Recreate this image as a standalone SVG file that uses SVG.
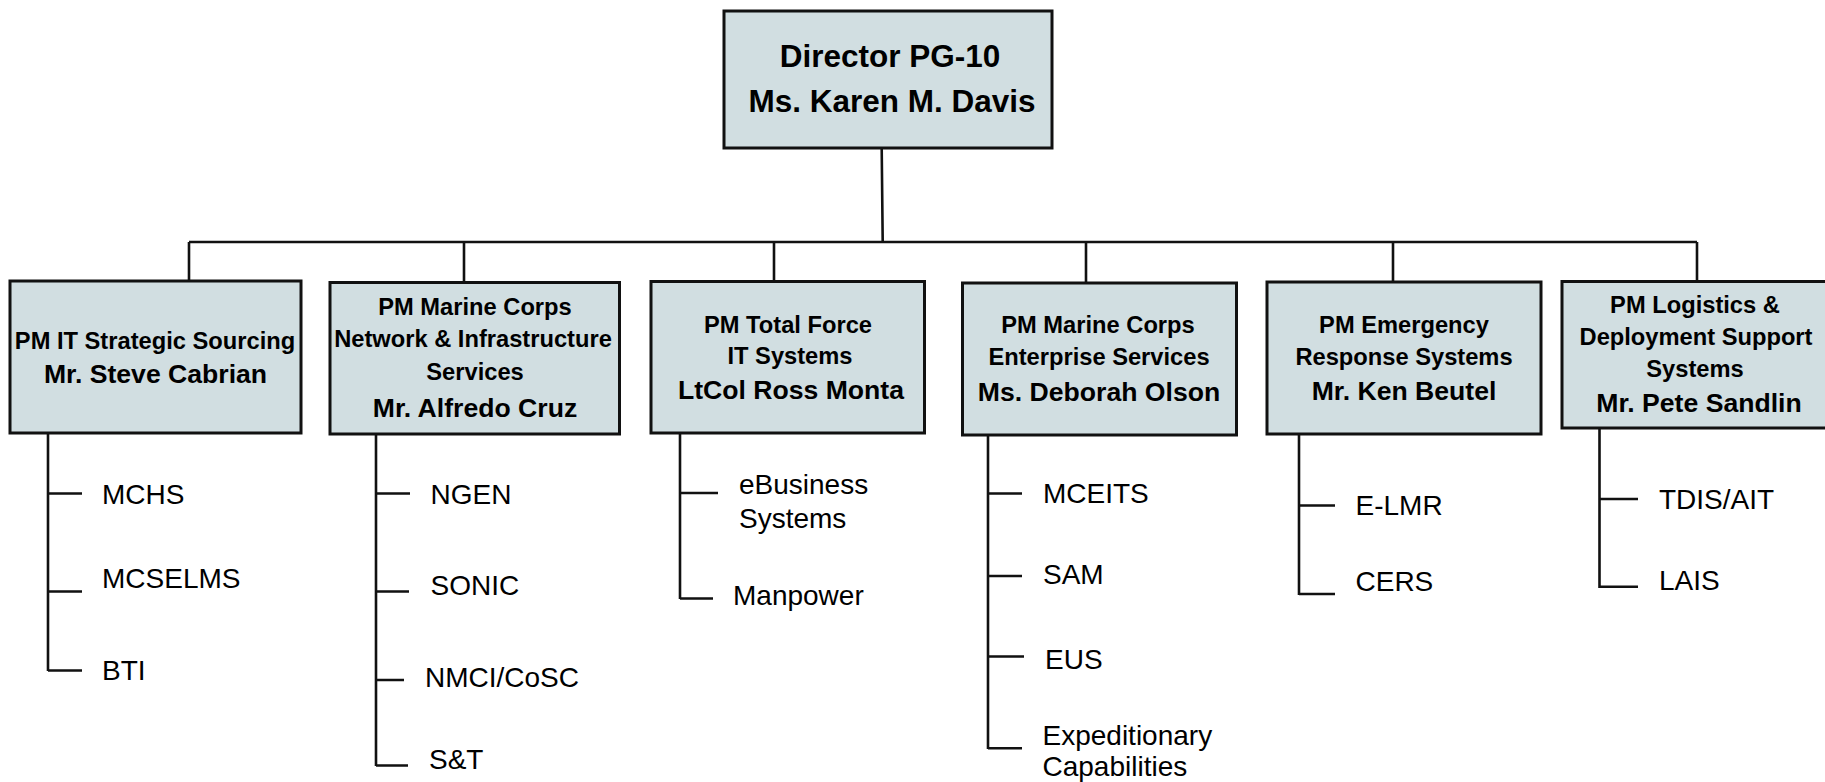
<svg xmlns="http://www.w3.org/2000/svg" width="1825" height="782" viewBox="0 0 1825 782">
<style>
.box{fill:#D1DEE1;stroke:#111;stroke-width:3}
.ln{stroke:#111;stroke-width:2.6;fill:none;stroke-linecap:butt}
text{font-family:"Liberation Sans",Arial,sans-serif;fill:#000}
.dir{font-size:31.5px;font-weight:bold;text-anchor:middle}
.t{font-size:23.7px;font-weight:bold;text-anchor:middle}
.n{font-size:26.6px;font-weight:bold;text-anchor:middle}
.leaf{font-size:28px}
</style>
<rect width="1825" height="782" fill="#fff"/>
<g id="connectors">
<path class="ln" d="M881.7 148 L882.7 242 M189 242 H1697 M189 242 V281 M464 242 V282 M774 242 V281 M1086 242 V283 M1393 242 V282 M1697 242 V281"/>
<path class="ln" d="M48 433 V671 M48 493.5 H82 M48 591.5 H82 M48 670.5 H82"/>
<path class="ln" d="M376 434 V766 M376 493.5 H410 M376 591.5 H409 M376 680 H404 M376 765.5 H408"/>
<path class="ln" d="M680 433 V599 M680 493 H718 M680 598.5 H713"/>
<path class="ln" d="M988 435 V749 M988 493.5 H1022 M988 576 H1022 M988 656.5 H1024 M988 748.3 H1022"/>
<path class="ln" d="M1299 434 V595 M1299 505.5 H1335 M1299 594 H1335"/>
<path class="ln" d="M1599.5 428 V588 M1599.5 499 H1638 M1599.5 586.7 H1638"/>
</g>
<g id="director">
<rect class="box" x="724" y="11" width="328" height="137"/>
<text class="dir" x="890" y="67">Director PG-10</text>
<text class="dir" x="892" y="112">Ms. Karen M. Davis</text>
</g>
<g id="pm-it-strategic-sourcing">
<rect class="box" x="10" y="281" width="291" height="152"/>
<text class="t" x="155" y="349">PM IT Strategic Sourcing</text>
<text class="n" x="155.5" y="383">Mr. Steve Cabrian</text>
</g>
<g id="pm-network">
<rect class="box" x="330" y="282.5" width="289.5" height="151.5"/>
<text class="t" x="475" y="315">PM Marine Corps</text>
<text class="t" x="473" y="347">Network &amp; Infrastructure</text>
<text class="t" x="475" y="380">Services</text>
<text class="n" x="475" y="417">Mr. Alfredo Cruz</text>
</g>
<g id="pm-total-force">
<rect class="box" x="651" y="281.5" width="273.5" height="151.5"/>
<text class="t" x="788" y="333">PM Total Force</text>
<text class="t" x="790" y="364">IT Systems</text>
<text class="n" x="791" y="399">LtCol Ross Monta</text>
</g>
<g id="pm-enterprise">
<rect class="box" x="962.5" y="283" width="274" height="152"/>
<text class="t" x="1098" y="333">PM Marine Corps</text>
<text class="t" x="1099" y="365">Enterprise Services</text>
<text class="n" x="1099" y="401">Ms. Deborah Olson</text>
</g>
<g id="pm-emergency">
<rect class="box" x="1267" y="282" width="274" height="152"/>
<text class="t" x="1404" y="333">PM Emergency</text>
<text class="t" x="1404" y="365">Response Systems</text>
<text class="n" x="1404" y="400">Mr. Ken Beutel</text>
</g>
<g id="pm-logistics">
<rect class="box" x="1562" y="281.5" width="280" height="146.5"/>
<text class="t" x="1695" y="313">PM Logistics &amp;</text>
<text class="t" x="1696" y="345">Deployment Support</text>
<text class="t" x="1695" y="377">Systems</text>
<text class="n" x="1699" y="412">Mr. Pete Sandlin</text>
</g>
<g id="leaves">
<text class="leaf" x="102" y="504">MCHS</text>
<text class="leaf" x="102" y="588">MCSELMS</text>
<text class="leaf" x="102" y="680">BTI</text>
<text class="leaf" x="430.5" y="503.5">NGEN</text>
<text class="leaf" x="430.5" y="595">SONIC</text>
<text class="leaf" x="425" y="686.5">NMCI/CoSC</text>
<text class="leaf" x="429" y="768.5">S&amp;T</text>
<text class="leaf" x="739" y="493.5">eBusiness</text>
<text class="leaf" x="739" y="527.5">Systems</text>
<text class="leaf" x="733" y="605">Manpower</text>
<text class="leaf" x="1043" y="502.5">MCEITS</text>
<text class="leaf" x="1043" y="583.5">SAM</text>
<text class="leaf" x="1045" y="668.5">EUS</text>
<text class="leaf" x="1042.5" y="744.5">Expeditionary</text>
<text class="leaf" x="1042.5" y="776">Capabilities</text>
<text class="leaf" x="1355.5" y="515">E-LMR</text>
<text class="leaf" x="1355.5" y="590.5">CERS</text>
<text class="leaf" x="1659" y="508.5">TDIS/AIT</text>
<text class="leaf" x="1659" y="590">LAIS</text>
</g>
</svg>
